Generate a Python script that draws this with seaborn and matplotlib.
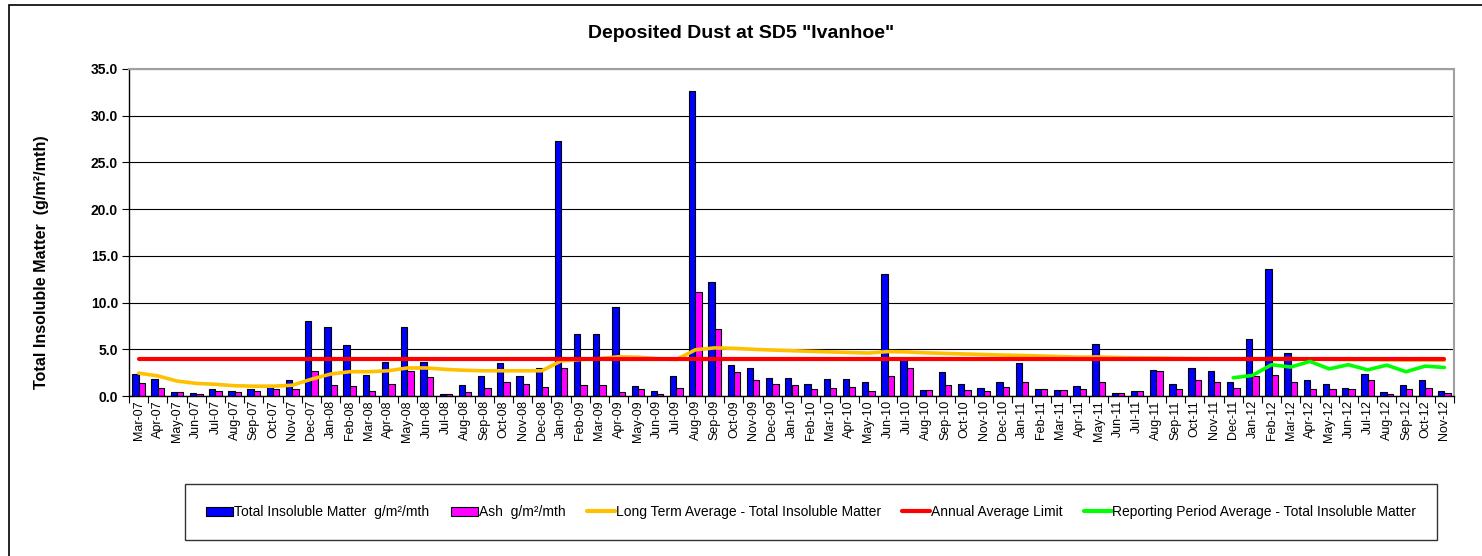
import numpy as np
import pandas as pd
import matplotlib
matplotlib.use("Agg")
import matplotlib.pyplot as plt
import seaborn as sns
from matplotlib.patches import Patch, Rectangle
from matplotlib.lines import Line2D

months = ["Mar-07", "Apr-07", "May-07", "Jun-07", "Jul-07", "Aug-07", "Sep-07", "Oct-07", "Nov-07", "Dec-07",
          "Jan-08", "Feb-08", "Mar-08", "Apr-08", "May-08", "Jun-08", "Jul-08", "Aug-08", "Sep-08", "Oct-08", "Nov-08", "Dec-08",
          "Jan-09", "Feb-09", "Mar-09", "Apr-09", "May-09", "Jun-09", "Jul-09", "Aug-09", "Sep-09", "Oct-09", "Nov-09", "Dec-09",
          "Jan-10", "Feb-10", "Mar-10", "Apr-10", "May-10", "Jun-10", "Jul-10", "Aug-10", "Sep-10", "Oct-10", "Nov-10", "Dec-10",
          "Jan-11", "Feb-11", "Mar-11", "Apr-11", "May-11", "Jun-11", "Jul-11", "Aug-11", "Sep-11", "Oct-11", "Nov-11", "Dec-11",
          "Jan-12", "Feb-12", "Mar-12", "Apr-12", "May-12", "Jun-12", "Jul-12", "Aug-12", "Sep-12", "Oct-12", "Nov-12"]

total_insoluble = [2.4, 1.85, 0.45, 0.35, 0.8, 0.5, 0.8, 1.2, 1.7, 8.0,
                   7.35, 5.5, 2.25, 3.65, 7.35, 3.65, 0.2, 1.15, 2.1, 3.55, 2.15, 3.05,
                   27.3, 6.6, 6.6, 9.55, 1.05, 0.5, 2.1, 32.6, 12.2, 3.3, 3.05, 1.95,
                   1.95, 1.25, 1.85, 1.85, 1.45, 13.1, 3.85, 0.6, 2.55, 1.25, 0.85, 1.55,
                   3.55, 0.75, 0.65, 1.05, 5.55, 0.3, 0.55, 2.75, 1.25, 3.05, 2.65, 1.55,
                   6.05, 13.6, 4.65, 1.75, 1.25, 0.85, 2.35, 0.45, 1.15, 1.75, 0.55]

ash = [1.35, 0.85, 0.45, 0.18, 0.55, 0.4, 0.55, 0.8, 0.75, 2.65,
       1.15, 1.05, 0.55, 1.25, 2.65, 2.05, 0.2, 0.45, 0.85, 1.55, 1.25, 1.0,
       3.05, 1.15, 1.15, 0.45, 0.7, 0.25, 0.9, 11.1, 7.2, 2.55, 1.7, 1.25,
       1.15, 0.8, 0.85, 0.95, 0.55, 2.15, 3.05, 0.6, 1.15, 0.65, 0.55, 0.95,
       1.45, 0.7, 0.65, 0.8, 1.55, 0.3, 0.55, 2.7, 0.8, 1.75, 1.55, 0.85,
       2.15, 2.2, 1.55, 0.8, 0.8, 0.7, 1.7, 0.25, 0.8, 0.85, 0.35]

long_term_avg = [2.45, 2.15, 1.6, 1.35, 1.25, 1.1, 1.05, 1.05, 1.15, 1.8,
                 2.35, 2.6, 2.6, 2.7, 3.0, 3.0, 2.85, 2.75, 2.7, 2.7, 2.7, 2.7,
                 3.75, 3.9, 4.0, 4.2, 4.15, 4.0, 3.9, 4.95, 5.15, 5.1, 5.0, 4.92,
                 4.85, 4.78, 4.72, 4.66, 4.6, 4.75, 4.72, 4.62, 4.56, 4.5, 4.44, 4.38,
                 4.34, 4.28, 4.22, 4.16, 4.18, 4.12, 4.08, 4.06, 4.02, 4.0, 3.98, 3.95,
                 3.95, 4.0, 4.0, 3.96, 3.93, 3.9, 3.9, 3.87, 3.85, 3.85, 3.83]

annual_limit = [4.0] * len(months)

reporting_start = "Dec-11"
reporting_avg = [1.95, 2.2, 3.35, 3.1, 3.7, 2.9, 3.35, 2.8, 3.3, 2.6, 3.2, 3.05]

series_labels = ["Total Insoluble Matter  g/m\u00b2/mth", "Ash  g/m\u00b2/mth",
                 "Long Term Average - Total Insoluble Matter", "Annual Average Limit",
                 "Reporting Period Average - Total Insoluble Matter"]
y_ticks = [0, 5, 10, 15, 20, 25, 30, 35]

BLUE, MAGENTA, GOLD, RED, GREEN = "#0000FF", "#FF00FF", "#FFC000", "#FF0000", "#00FF00"

sns.set_theme(style="white")
plt.rcParams["font.family"] = ["Liberation Sans", "DejaVu Sans"]
plt.rcParams["text.color"] = "black"
plt.rcParams["axes.labelcolor"] = "black"
plt.rcParams["xtick.color"] = "black"
plt.rcParams["ytick.color"] = "black"

W, H = 1482, 556
fig = plt.figure(figsize=(W / 100, H / 100), dpi=100)
fig.patch.set_facecolor("white")
ax = fig.add_axes([129 / W, 1 - 396 / H, (1454 - 129) / W, (396 - 69) / H])

df = pd.DataFrame({
    "Month": months * 2,
    "Value": total_insoluble + ash,
    "Series": [series_labels[0]] * len(months) + [series_labels[1]] * len(months),
})
sns.barplot(data=df, x="Month", y="Value", hue="Series", order=months,
            hue_order=series_labels[:2], palette=[BLUE, MAGENTA], saturation=1,
            width=0.66, edgecolor="black", linewidth=0.8, errorbar=None,
            legend=False, ax=ax, zorder=2)

x = np.arange(len(months))
ax.plot(x, long_term_avg, color=GOLD, lw=2.6, solid_joinstyle="round", solid_capstyle="round", zorder=4)
ax.plot(x, annual_limit, color=RED, lw=3, solid_capstyle="round", zorder=5)
s = months.index(reporting_start)
ax.plot(x[s:s + len(reporting_avg)], reporting_avg, color=GREEN, lw=2.6,
        solid_joinstyle="round", solid_capstyle="round", zorder=6)

ax.set_xlim(-0.5, len(months) - 0.5)
ax.set_ylim(0, 35)
ax.set_yticks(y_ticks)
ax.set_yticklabels([f"{v:.1f}" for v in y_ticks], fontsize=10, fontweight="bold")
ax.set_xticks(x)
ax.set_xticklabels(months, rotation=90, fontsize=9)
ax.set_xticks(np.arange(-0.5, len(months), 1), minor=True)
ax.tick_params(axis="x", which="major", length=0, pad=3, colors="black")
ax.tick_params(axis="x", which="minor", bottom=True, length=5, width=0.8, direction="out", color="black")
ax.tick_params(axis="y", left=True, length=5, width=0.8, direction="out", color="black", pad=3)
ax.set_xlabel("")
ax.set_ylabel("")
ax.yaxis.grid(True, color="black", lw=0.8)
ax.xaxis.grid(False)
ax.set_axisbelow(True)
for side in ["left", "bottom"]:
    ax.spines[side].set_color("black")
    ax.spines[side].set_linewidth(1)
for side in ["top", "right"]:
    ax.spines[side].set_color("#A0A0A0")
    ax.spines[side].set_linewidth(1.5)

fig.text(741 / W, 1 - 33 / H, 'Deposited Dust at SD5 "Ivanhoe"', ha="center", va="center",
         fontsize=14, fontweight="bold", color="black")
fig.text(42 / W, 1 - 262 / H, "Total Insoluble Matter  (g/m\u00b2/mth)", rotation=90,
         ha="center", va="center", fontsize=11.6, fontweight="bold", color="black")

handles = [Patch(facecolor=BLUE, edgecolor="black", lw=0.8),
           Patch(facecolor=MAGENTA, edgecolor="black", lw=0.8),
           Line2D([0], [0], color=GOLD, lw=3),
           Line2D([0], [0], color=RED, lw=3),
           Line2D([0], [0], color=GREEN, lw=3)]
leg = fig.legend(handles, series_labels, loc="center", bbox_to_anchor=(811 / W, 1 - 512 / H),
                 ncol=5, frameon=True, fancybox=False, fontsize=10, handlelength=2.0,
                 handleheight=0.6, handletextpad=0.05, columnspacing=1.55, borderpad=1.5)
leg.get_frame().set_edgecolor("black")
leg.get_frame().set_linewidth(1)
leg.get_frame().set_boxstyle("square", pad=0)

fig.patches.append(Rectangle((9 / W, -0.1), 1.5, 1 - 5 / H + 0.1, transform=fig.transFigure,
                             fill=False, edgecolor="black", lw=1.2))

fig.savefig("out.png", dpi=100)
